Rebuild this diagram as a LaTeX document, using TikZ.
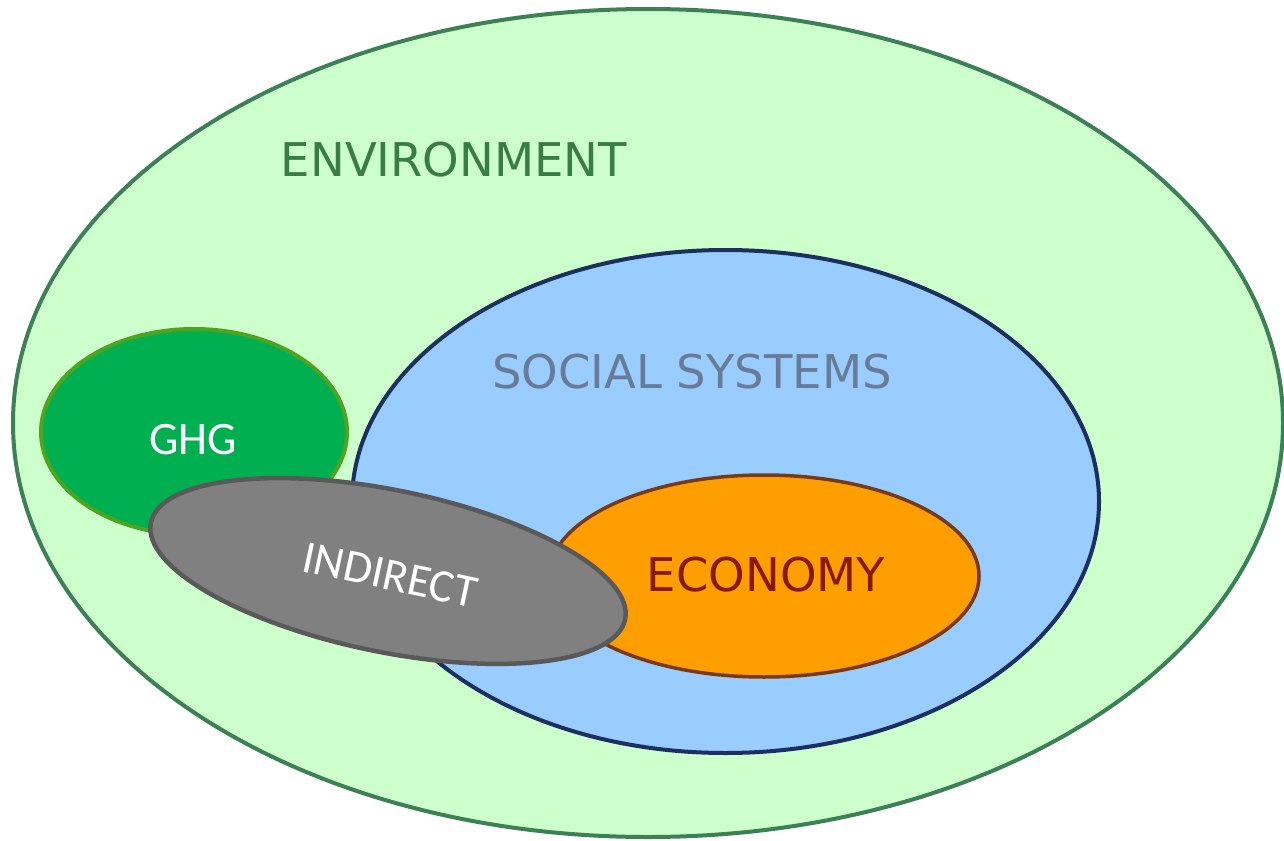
\documentclass[tikz,border=0pt]{standalone}
\usepackage{fontspec}
\usetikzlibrary{shapes.geometric}
\newfontfamily\verdfont{DejaVu Sans}
\newfontfamily\carlfont{Carlito}
\definecolor{envfill}{RGB}{204,255,204}
\definecolor{envline}{RGB}{62,128,86}
\definecolor{envtext}{RGB}{58,125,68}
\definecolor{socfill}{RGB}{153,204,255}
\definecolor{socline}{RGB}{28,48,96}
\definecolor{soctext}{RGB}{104,124,152}
\definecolor{ecofill}{RGB}{255,158,0}
\definecolor{ecoline}{RGB}{120,58,18}
\definecolor{ecotext}{RGB}{136,24,0}
\definecolor{ghgfill}{RGB}{0,176,80}
\definecolor{ghgline}{RGB}{78,164,30}
\definecolor{indfill}{RGB}{128,128,128}
\definecolor{indline}{RGB}{89,89,89}
\begin{document}
\begin{tikzpicture}[x=1pt,y=-1pt,
  blob/.style={ellipse,inner sep=0pt,outer sep=0pt},
  lbl/.style={inner sep=0pt,font=\verdfont\fontsize{46.5}{50}\selectfont},
  clbl/.style={inner sep=0pt,font=\carlfont\fontsize{46.5}{50}\selectfont,text=white}]
\useasboundingbox[fill=white] (0,0) rectangle (1284,840);
\node[blob,fill=envfill,draw=envline,line width=4pt,minimum width=1270pt,minimum height=828pt] (env) at (648,423) {};
\node[blob,fill=socfill,draw=socline,line width=4pt,minimum width=747pt,minimum height=503pt] (soc) at (725.5,501.5) {};
\node[blob,fill=ecofill,draw=ecoline,line width=3.5pt,minimum width=430pt,minimum height=202pt] (eco) at (764,576) {};
\node[blob,fill=ghgfill,draw=ghgline,line width=4pt,minimum width=306pt,minimum height=206pt] (ghg) at (194,432) {};
\node[blob,fill=indfill,draw=indline,line width=4.5pt,minimum width=484pt,minimum height=162pt,rotate=-11.5] (ind) at (388,571) {};
\node[lbl,text=envtext] (envl) at (454,160) {ENVIRONMENT};
\node[lbl,text=soctext] (socl) at (692,372) {SOCIAL SYSTEMS};
\node[lbl,text=ecotext] (ecol) at (766,575) {ECONOMY};
\node[clbl] (ghgl) at (193,440) {GHG};
\node[clbl,rotate=-12] (indl) at (390,575) {INDIRECT};
\end{tikzpicture}
\end{document}
